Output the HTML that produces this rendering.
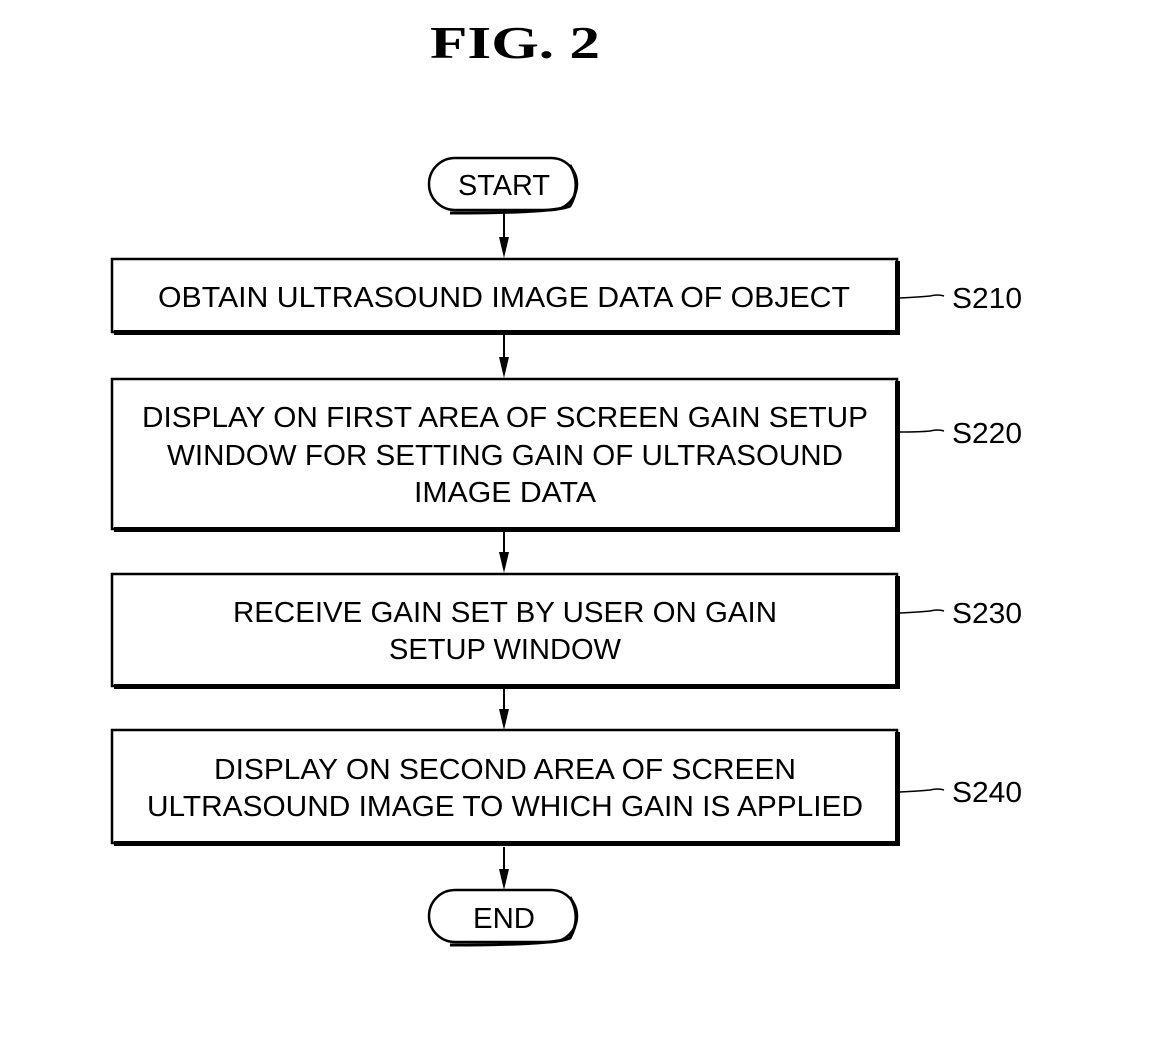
<!DOCTYPE html>
<html><head><meta charset="utf-8"><style>
html,body{margin:0;padding:0;background:#fff;}
svg{display:block;}
text{font-family:"Liberation Sans",sans-serif;fill:#000;}
</style></head><body>
<svg width="1157" height="1051" viewBox="0 0 1157 1051" xmlns="http://www.w3.org/2000/svg">
<text x="515" y="58" text-anchor="middle" style="font-family:'Liberation Serif',serif;font-weight:bold;font-size:46px" textLength="170" lengthAdjust="spacingAndGlyphs">FIG. 2</text>

<!-- START -->
<rect x="429" y="158" width="148" height="52" rx="26" fill="none" stroke="#000" stroke-width="2.5"/>
<path d="M570 165 Q582 185 570 206 Q555 213 450 213" fill="none" stroke="#000" stroke-width="3"/>
<text x="504" y="195" text-anchor="middle" font-size="29" textLength="92" lengthAdjust="spacingAndGlyphs">START</text>

<!-- END -->
<rect x="429" y="890" width="148" height="52" rx="26" fill="none" stroke="#000" stroke-width="2.5"/>
<path d="M570 897 Q582 917 570 938 Q555 945 450 945" fill="none" stroke="#000" stroke-width="3"/>
<text x="504" y="928" text-anchor="middle" font-size="29" textLength="62" lengthAdjust="spacingAndGlyphs">END</text>

<!-- arrows -->
<g stroke="#000" stroke-width="2">
<line x1="504" y1="212" x2="504" y2="250"/>
<line x1="504" y1="335" x2="504" y2="370"/>
<line x1="504" y1="532" x2="504" y2="565"/>
<line x1="504" y1="689" x2="504" y2="722"/>
<line x1="504" y1="847" x2="504" y2="882"/>
</g>
<g fill="#000">
<polygon points="499,237 509,237 504,258"/>
<polygon points="499,357 509,357 504,378"/>
<polygon points="499,552 509,552 504,573"/>
<polygon points="499,709 509,709 504,730"/>
<polygon points="499,869 509,869 504,890"/>
</g>

<!-- boxes -->
<g fill="none" stroke="#000">
<rect x="112" y="259" width="785" height="73" stroke-width="2.5"/>
<rect x="112" y="379" width="785" height="150" stroke-width="2.5"/>
<rect x="112" y="574" width="785" height="112" stroke-width="2.5"/>
<rect x="112" y="730" width="785" height="113" stroke-width="2.5"/>
</g>
<g fill="#000">
<rect x="895" y="261" width="5" height="74"/><rect x="114" y="330" width="786" height="5"/>
<rect x="895" y="381" width="5" height="151"/><rect x="114" y="527" width="786" height="5"/>
<rect x="895" y="576" width="5" height="113"/><rect x="114" y="684" width="786" height="5"/>
<rect x="895" y="732" width="5" height="114"/><rect x="114" y="841" width="786" height="5"/>
</g>

<g font-size="29" text-anchor="middle">
<text x="504" y="307" textLength="692" lengthAdjust="spacingAndGlyphs">OBTAIN ULTRASOUND IMAGE DATA OF OBJECT</text>
<text x="505" y="427" textLength="726" lengthAdjust="spacingAndGlyphs">DISPLAY ON FIRST AREA OF SCREEN GAIN SETUP</text>
<text x="505" y="465" textLength="676" lengthAdjust="spacingAndGlyphs">WINDOW FOR SETTING GAIN OF ULTRASOUND</text>
<text x="505" y="502" textLength="182" lengthAdjust="spacingAndGlyphs">IMAGE DATA</text>
<text x="505" y="622" textLength="544" lengthAdjust="spacingAndGlyphs">RECEIVE GAIN SET BY USER ON GAIN</text>
<text x="505" y="659" textLength="232" lengthAdjust="spacingAndGlyphs">SETUP WINDOW</text>
<text x="505" y="779" textLength="582" lengthAdjust="spacingAndGlyphs">DISPLAY ON SECOND AREA OF SCREEN</text>
<text x="505" y="816" textLength="716" lengthAdjust="spacingAndGlyphs">ULTRASOUND IMAGE TO WHICH GAIN IS APPLIED</text>
</g>

<!-- step labels -->
<g fill="none" stroke="#000" stroke-width="1.5">
<path d="M900 298 Q920 297 930 296 Q938 294 944 296"/>
<path d="M900 432 Q920 432 930 431 Q938 429 944 431"/>
<path d="M900 613 Q920 612 930 611 Q938 609 944 611"/>
<path d="M900 792 Q920 791 930 790 Q938 788 944 790"/>
</g>
<g font-size="29">
<text x="952" y="308" textLength="70" lengthAdjust="spacingAndGlyphs">S210</text>
<text x="952" y="443" textLength="70" lengthAdjust="spacingAndGlyphs">S220</text>
<text x="952" y="623" textLength="70" lengthAdjust="spacingAndGlyphs">S230</text>
<text x="952" y="802" textLength="70" lengthAdjust="spacingAndGlyphs">S240</text>
</g>
</svg>
</body></html>
